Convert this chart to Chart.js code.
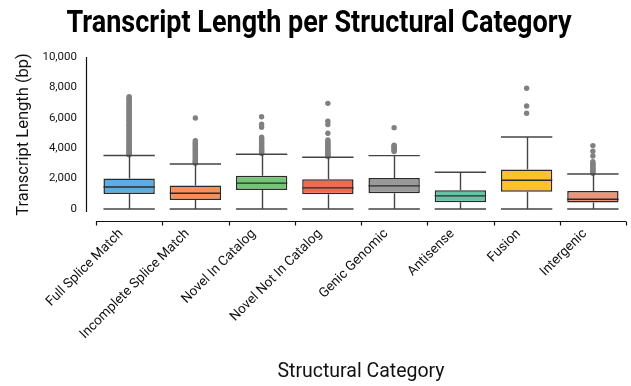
<!DOCTYPE html>
<html>
<head>
<meta charset="utf-8">
<title>Transcript Length per Structural Category</title>
<script src="https://cdn.jsdelivr.net/npm/chart.js@4.4.0/dist/chart.umd.min.js"></script>
<style>
  html, body { margin: 0; padding: 0; background: #fff; }
  #wrap { width: 631px; height: 386px; position: relative; }
</style>
</head>
<body>
<div id="wrap"><canvas id="lengthChart"></canvas></div>
<script>
const chartTitle = 'Transcript Length per Structural Category';

const categories = [
    'Full Splice Match', 'Incomplete Splice Match', 'Novel In Catalog', 'Novel Not In Catalog',
    'Genic Genomic', 'Antisense', 'Fusion', 'Intergenic'
];

// box statistics (bp)
const whiskerLow  = [0, 0, 0, 0, 0, 0, 0, 0];
const q1          = [990, 590, 1250, 970, 1040, 440, 1140, 420];
const median      = [1450, 1035, 1700, 1390, 1520, 860, 1890, 640];
const q3          = [2000, 1540, 2180, 1960, 2030, 1230, 2590, 1190];
const whiskerHigh = [3520, 2960, 3600, 3400, 3510, 2420, 4740, 2300];

const boxColors = ['#5DADE2', '#FC8D59', '#74C476', '#EE6A50', '#999999', '#66C2A5', '#FFC12A', '#E9967A'];

// outliers per category
const fsmOutliers = [3560, 3620, 3680, 3750, 3820, 3890, 3960, 4040, 4110, 4190, 4260, 4340, 4420, 4500,
    4580, 4660, 4740, 4820, 4900, 4990, 5070, 5150, 5240, 5320, 5410, 5490, 5580, 5660, 5750, 5840,
    5920, 6010, 6100, 6180, 6270, 6360, 6440, 6530, 6620, 6700, 6790, 6880, 6960, 7050, 7140, 7220,
    7310, 7390];
const ismOutliers = [3000, 3070, 3140, 3210, 3290, 3360, 3440, 3520, 3600, 3680, 3760, 3840, 3920,
    4000, 4080, 4160, 4250, 4330, 4420, 4500, 5990];
const nicOutliers = [3650, 3720, 3790, 3860, 3930, 4000, 4080, 4160, 4240, 4320, 4400, 4480, 4560,
    4640, 4720, 5380, 5570, 6070];
const nnicOutliers = [3450, 3520, 3590, 3660, 3730, 3800, 3880, 3960, 4040, 4120, 4200, 4280, 4360,
    4440, 4540, 4980, 5550, 5780, 6950];
const ggOutliers = [3780, 3850, 3920, 3990, 4060, 4130, 4200, 5350];
const antisenseOutliers = [];
const fusionOutliers = [6300, 6780, 7940];
const intergenicOutliers = [2350, 2420, 2490, 2560, 2630, 2700, 2780, 2860, 2940, 3020, 3110,
    3490, 3800, 4170];

const outliers = [fsmOutliers, ismOutliers, nicOutliers, nnicOutliers, ggOutliers,
    antisenseOutliers, fusionOutliers, intergenicOutliers];

const yTicks = [0, 2000, 4000, 6000, 8000, 10000];

const TEXT = '#111111';

const titlePlugin = {
    id: 'condensedTitle',
    afterDraw(chart) {
        const ctx = chart.ctx;
        ctx.save();
        ctx.font = 'bold 31px Roboto';
        ctx.fillStyle = '#000';
        ctx.textAlign = 'center';
        ctx.textBaseline = 'alphabetic';
        const w = ctx.measureText(chartTitle).width;
        ctx.translate(319, 31.5);
        ctx.scale(Math.min(1, 505 / w), 1);
        ctx.fillText(chartTitle, 0, 0);
        ctx.restore();
    }
};

const boxPlugin = {
    id: 'boxWhiskers',
    afterDatasetsDraw(chart) {
        const { ctx, scales: { y } } = chart;
        const bars = chart.getDatasetMeta(0).data;
        ctx.save();
        ctx.lineWidth = 1.4;
        bars.forEach((bar, i) => {
            const cx = Math.round(bar.x) + 0.5;
            const hw = bar.width / 2;
            const yLow = y.getPixelForValue(whiskerLow[i]);
            const yHigh = y.getPixelForValue(whiskerHigh[i]);
            const yQ1 = y.getPixelForValue(q1[i]);
            const yQ3 = y.getPixelForValue(q3[i]);
            const yMed = y.getPixelForValue(median[i]);

            ctx.strokeStyle = '#444444';
            ctx.beginPath();
            ctx.moveTo(cx, yQ1); ctx.lineTo(cx, yLow);
            ctx.moveTo(cx, yQ3); ctx.lineTo(cx, yHigh);
            ctx.moveTo(bar.x - hw, yLow); ctx.lineTo(bar.x + hw, yLow);
            ctx.moveTo(bar.x - hw, yHigh); ctx.lineTo(bar.x + hw, yHigh);
            ctx.stroke();

            ctx.strokeStyle = '#2a2a2a';
            ctx.beginPath();
            ctx.moveTo(bar.x - hw, yMed); ctx.lineTo(bar.x + hw, yMed);
            ctx.stroke();
        });
        ctx.restore();
    },
    afterDraw(chart) {
        // offset axis lines, seaborn style
        const { ctx, chartArea: area } = chart;
        const n = categories.length;
        const axisY = Math.round(area.bottom + 9) + 0.5;
        const axisX = Math.round(area.left - 10) + 0.5;
        ctx.save();
        ctx.strokeStyle = '#111';
        ctx.lineWidth = 1.2;
        ctx.beginPath();
        ctx.moveTo(axisX, area.top);
        ctx.lineTo(axisX, area.bottom);
        ctx.moveTo(area.left, axisY);
        ctx.lineTo(area.right, axisY);
        for (let k = 0; k <= n; k++) {
            const px = Math.round(area.left + k * (area.right - area.left) / n) + 0.5;
            ctx.moveTo(px, axisY);
            ctx.lineTo(px, axisY + 4);
        }
        ctx.stroke();
        ctx.restore();
    }
};

const ctx = document.getElementById('lengthChart').getContext('2d');

new Chart(ctx, {
    type: 'bar',
    data: {
        labels: categories,
        datasets: [
            {
                label: 'IQR',
                data: categories.map((c, i) => [q1[i], q3[i]]),
                backgroundColor: boxColors,
                borderColor: '#2a2a2a',
                borderWidth: 1.5,
                borderSkipped: false,
                barPercentage: 0.775,
                categoryPercentage: 1,
                order: 2
            },
            {
                type: 'line',
                label: 'Outliers',
                data: outliers.flatMap((vals, i) => vals.map(v => ({ x: categories[i], y: v }))),
                showLine: false,
                pointRadius: 2.7,
                pointBackgroundColor: '#808080',
                pointBorderWidth: 0,
                order: 1
            }
        ]
    },
    options: {
        responsive: true,
        maintainAspectRatio: false,
        animation: false,
        devicePixelRatio: 1,
        layout: { padding: { top: 57, right: 5, bottom: 0, left: 0 } },
        plugins: {
            legend: { display: false },
            tooltip: { enabled: false },
            title: { display: false }
        },
        scales: {
            x: {
                offset: true,
                grid: { display: false, drawTicks: false },
                border: { display: false },
                ticks: {
                    font: { family: 'Roboto', size: 13.5 },
                    color: TEXT,
                    minRotation: 45,
                    maxRotation: 45,
                    autoSkip: false,
                    padding: 14,
                    labelOffset: -8
                },
                title: {
                    display: true,
                    text: 'Structural Category',
                    font: { family: 'Roboto', size: 19.5, lineHeight: 1.2 },
                    color: TEXT,
                    padding: { top: 0, bottom: 2 }
                },
                afterFit(scale) { scale.height = 174; }
            },
            y: {
                min: -200,
                max: 10000,
                afterBuildTicks(scale) { scale.ticks = yTicks.map(v => ({ value: v })); },
                grid: { display: false, drawTicks: false },
                border: { display: false },
                ticks: {
                    font: { family: 'Roboto', size: 11.5 },
                    color: TEXT,
                    padding: 19,
                    callback: value => value.toLocaleString('en-US')
                },
                title: {
                    display: true,
                    text: 'Transcript Length (bp)',
                    font: { family: 'Roboto', size: 16.5, lineHeight: 1.2 },
                    color: TEXT,
                    padding: { top: 14, bottom: 0 }
                },
                afterFit(scale) { scale.width = 96; }
            }
        }
    },
    plugins: [titlePlugin, boxPlugin]
});
</script>
</body>
</html>
